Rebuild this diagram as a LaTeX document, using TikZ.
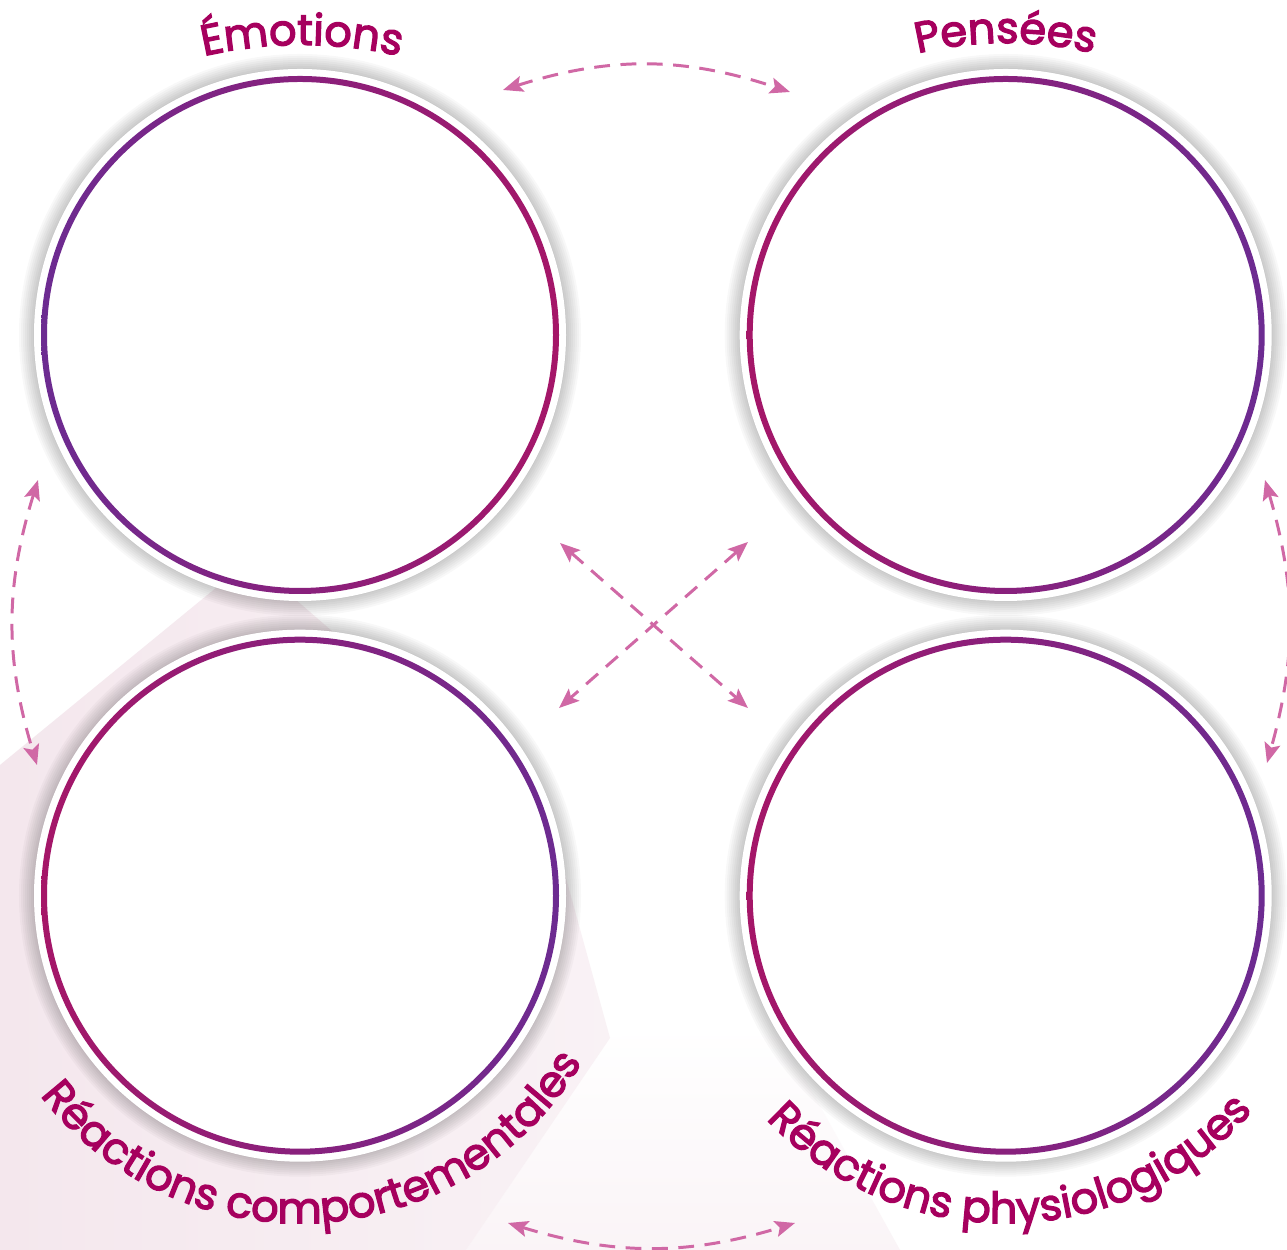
\documentclass[tikz,border=0pt]{standalone}
\usepackage{fontspec}
\usetikzlibrary{arrows.meta,positioning,calc,backgrounds,decorations.text}
\newfontfamily\arcfont{Poppins}[FakeBold=3]
\definecolor{RingPurple}{RGB}{108,43,145}
\definecolor{RingMagenta}{RGB}{165,22,104}
\definecolor{LabelMagenta}{RGB}{166,0,94}
\definecolor{LinkPink}{RGB}{208,104,165}
\definecolor{SoftPink}{RGB}{244,231,237}
\newcommand{\arclabel}{\arcfont\fontsize{24.5}{28}\selectfont\color{LabelMagenta}}

\begin{document}
\begin{tikzpicture}[
    disc/.style={circle, fill=white, inner sep=0pt, minimum size=10.64cm},
    link/.style={{Stealth[length=4mm,width=3.2mm,inset=0.8mm]}-{Stealth[length=4mm,width=3.2mm,inset=0.8mm]}, line width=1.7pt, LinkPink, dash pattern=on 9pt off 6pt},
    arclbl/.style={decorate, decoration={text along path, text align=center, text={|\arclabel|#1}}},
    node distance=0.56cm and 3.46cm
  ]
  \useasboundingbox (0,0) rectangle (25.74,25);

  % Four circles
  \node[disc] (emo) at (6,18.3) {};
  \node[disc, right=of emo] (pens) {};
  \node[disc, below=of emo] (comp) {};
  \node[disc, below=of pens] (phys) {};

  % Background wash and halos
  \begin{scope}[on background layer]
    \fill[white] (0,0) rectangle (25.74,25);
    \shade[top color=white, bottom color=SoftPink!45!white] (12.2,4.24) -- (9.32,0) -- (18,0) -- (15.5,4.5) -- cycle;
    \shade[left color=SoftPink, right color=SoftPink!55!white] (0,9.7) -- (5,13.8) -- (11,8.6) -- (12.2,4.24) -- (9.32,0) -- (0,0) -- cycle;
    \foreach \c in {emo,pens,comp,phys}
      \foreach \r in {5.34,5.38,...,5.66}
        \fill[black, opacity=0.026] (\c.center) circle[radius=\r];
  \end{scope}

  % Gradient rings
  \shade[even odd rule, left color=RingPurple, right color=RingMagenta] (emo.center) circle[radius=5.18] (emo.center) circle[radius=5.06];
  \shade[even odd rule, left color=RingMagenta, right color=RingPurple] (pens.center) circle[radius=5.18] (pens.center) circle[radius=5.06];
  \shade[even odd rule, left color=RingMagenta, right color=RingPurple] (comp.center) circle[radius=5.18] (comp.center) circle[radius=5.06];
  \shade[even odd rule, left color=RingMagenta, right color=RingPurple] (phys.center) circle[radius=5.18] (phys.center) circle[radius=5.06];

  % Curved titles
  \path[arclbl=Émotions] ($(emo.center)+(0.04,-3)+(115:8.8)$) arc[start angle=115, end angle=65, radius=8.8];
  \path[arclbl=Pensées] ($(pens.center)+(0,-1.76)+(115:7.6)$) arc[start angle=115, end angle=65, radius=7.6];
  \path[arclbl=Réactions comportementales] ($(comp.center)+(183.5:6.55)$) arc[start angle=183.5, end angle=363.5, radius=6.55];
  \path[arclbl=Réactions physiologiques] ($(phys.center)+(181:6.55)$) arc[start angle=181, end angle=361, radius=6.55];

  % Arrow ends
  \coordinate (top-a) at (10.06,23.2);
  \coordinate (top-b) at (15.8,23.16);
  \coordinate (bot-a) at (10.16,0.54);
  \coordinate (bot-b) at (15.9,0.54);
  \coordinate (left-a) at (0.76,15.4);
  \coordinate (left-b) at (0.74,9.7);
  \coordinate (right-a) at (25.3,15.4);
  \coordinate (right-b) at (25.34,9.74);
  \coordinate (x-nw) at (11.2,14.14);
  \coordinate (x-ne) at (14.96,14.16);
  \coordinate (x-sw) at (11.18,10.84);
  \coordinate (x-se) at (14.96,10.84);

  % Links
  \draw[link] (top-a) to[bend left=18] (top-b);
  \draw[link] (bot-a) to[bend right=17] (bot-b);
  \draw[link] (left-a) to[bend right=17] (left-b);
  \draw[link] (right-a) to[bend left=16] (right-b);
  \draw[link] (x-nw) -- (x-se);
  \draw[link] (x-ne) -- (x-sw);
\end{tikzpicture}
\end{document}
